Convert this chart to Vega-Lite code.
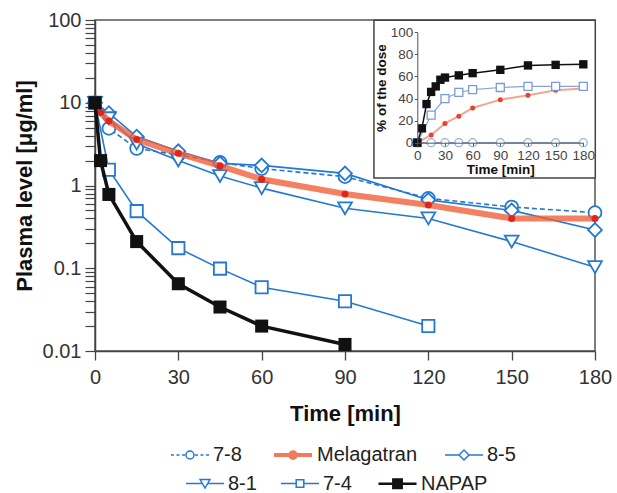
{
  "$schema": "https://vega.github.io/schema/vega-lite/v6.json",
  "width": 500,
  "height": 331,
  "autosize": "none",
  "padding": {"left": 95, "top": 20, "right": 22, "bottom": 142},
  "background": "white",
  "config": {
    "font": "Liberation Sans",
    "view": {"stroke": "#555", "strokeWidth": 1.5},
    "axis": {"labelFlush": false, "labelOverlap": false, "labelBound": false, "grid": false, "domainColor": "#444", "tickColor": "#444", "labelColor": "#333", "titleColor": "#111", "titleFontWeight": "bold"},
    "legend": {"padding": 0, "symbolSize": 1444, "labelOffset": 3, "columnPadding": 24, "labelFontSize": 20, "labelColor": "#222", "direction": "horizontal", "orient": "none"}
  },
  "datasets": {
    "main": [
      {"s": "7-8", "t": 0, "v": 10}, {"s": "7-8", "t": 5, "v": 4.9}, {"s": "7-8", "t": 15, "v": 2.8}, {"s": "7-8", "t": 30, "v": 2.35}, {"s": "7-8", "t": 45, "v": 1.9}, {"s": "7-8", "t": 60, "v": 1.6}, {"s": "7-8", "t": 90, "v": 1.28}, {"s": "7-8", "t": 120, "v": 0.7}, {"s": "7-8", "t": 150, "v": 0.55}, {"s": "7-8", "t": 180, "v": 0.47},
      {"s": "8-5", "t": 0, "v": 10}, {"s": "8-5", "t": 5, "v": 7.5}, {"s": "8-5", "t": 15, "v": 3.9}, {"s": "8-5", "t": 30, "v": 2.6}, {"s": "8-5", "t": 45, "v": 1.85}, {"s": "8-5", "t": 60, "v": 1.75}, {"s": "8-5", "t": 90, "v": 1.4}, {"s": "8-5", "t": 120, "v": 0.67}, {"s": "8-5", "t": 150, "v": 0.5}, {"s": "8-5", "t": 180, "v": 0.29},
      {"s": "8-1", "t": 0, "v": 10}, {"s": "8-1", "t": 5, "v": 6.5}, {"s": "8-1", "t": 15, "v": 3.2}, {"s": "8-1", "t": 30, "v": 2.0}, {"s": "8-1", "t": 45, "v": 1.3}, {"s": "8-1", "t": 60, "v": 0.93}, {"s": "8-1", "t": 90, "v": 0.53}, {"s": "8-1", "t": 120, "v": 0.4}, {"s": "8-1", "t": 150, "v": 0.21}, {"s": "8-1", "t": 180, "v": 0.103},
      {"s": "7-4", "t": 0, "v": 10}, {"s": "7-4", "t": 5, "v": 1.55}, {"s": "7-4", "t": 15, "v": 0.49}, {"s": "7-4", "t": 30, "v": 0.175}, {"s": "7-4", "t": 45, "v": 0.099}, {"s": "7-4", "t": 60, "v": 0.059}, {"s": "7-4", "t": 90, "v": 0.04}, {"s": "7-4", "t": 120, "v": 0.02},
      {"s": "Melagatran", "t": 2, "v": 7.6}, {"s": "Melagatran", "t": 5, "v": 6.0}, {"s": "Melagatran", "t": 15, "v": 3.6}, {"s": "Melagatran", "t": 30, "v": 2.45}, {"s": "Melagatran", "t": 45, "v": 1.73}, {"s": "Melagatran", "t": 60, "v": 1.19}, {"s": "Melagatran", "t": 90, "v": 0.79}, {"s": "Melagatran", "t": 120, "v": 0.58}, {"s": "Melagatran", "t": 150, "v": 0.4}, {"s": "Melagatran", "t": 180, "v": 0.4},
      {"s": "NAPAP", "t": 0, "v": 10}, {"s": "NAPAP", "t": 2, "v": 2.0}, {"s": "NAPAP", "t": 5, "v": 0.78}, {"s": "NAPAP", "t": 15, "v": 0.21}, {"s": "NAPAP", "t": 30, "v": 0.065}, {"s": "NAPAP", "t": 45, "v": 0.034}, {"s": "NAPAP", "t": 60, "v": 0.02}, {"s": "NAPAP", "t": 90, "v": 0.012}
    ],
    "inset": [
      {"s": "NAPAP", "t": 0, "p": 0}, {"s": "NAPAP", "t": 5, "p": 13}, {"s": "NAPAP", "t": 10, "p": 35}, {"s": "NAPAP", "t": 15, "p": 46}, {"s": "NAPAP", "t": 20, "p": 51}, {"s": "NAPAP", "t": 25, "p": 57}, {"s": "NAPAP", "t": 30, "p": 59}, {"s": "NAPAP", "t": 45, "p": 61}, {"s": "NAPAP", "t": 60, "p": 63}, {"s": "NAPAP", "t": 90, "p": 66}, {"s": "NAPAP", "t": 120, "p": 70}, {"s": "NAPAP", "t": 150, "p": 70.5}, {"s": "NAPAP", "t": 180, "p": 71},
      {"s": "7-4", "t": 0, "p": 0}, {"s": "7-4", "t": 15, "p": 25}, {"s": "7-4", "t": 30, "p": 40}, {"s": "7-4", "t": 45, "p": 45.5}, {"s": "7-4", "t": 60, "p": 48}, {"s": "7-4", "t": 90, "p": 50}, {"s": "7-4", "t": 120, "p": 51}, {"s": "7-4", "t": 150, "p": 51}, {"s": "7-4", "t": 180, "p": 51},
      {"s": "Melagatran", "t": 0, "p": 0}, {"s": "Melagatran", "t": 15, "p": 7}, {"s": "Melagatran", "t": 30, "p": 17.5}, {"s": "Melagatran", "t": 45, "p": 24}, {"s": "Melagatran", "t": 60, "p": 31.5}, {"s": "Melagatran", "t": 90, "p": 39}, {"s": "Melagatran", "t": 120, "p": 43}, {"s": "Melagatran", "t": 150, "p": 47.5}, {"s": "Melagatran", "t": 180, "p": 49},
      {"s": "7-8", "t": 0, "p": 0}, {"s": "7-8", "t": 15, "p": 0}, {"s": "7-8", "t": 30, "p": 0}, {"s": "7-8", "t": 45, "p": 0}, {"s": "7-8", "t": 60, "p": 0}, {"s": "7-8", "t": 90, "p": 0}, {"s": "7-8", "t": 120, "p": 0}, {"s": "7-8", "t": 150, "p": 0}, {"s": "7-8", "t": 180, "p": 0}
    ]
  },
  "layer": [
    {
      "data": {"name": "main"},
      "encoding": {
        "x": {"field": "t", "type": "quantitative", "scale": {"domain": [0, 180], "nice": false, "zero": false},
          "axis": {"orient": "bottom", "values": [0, 30, 60, 90, 120, 150, 180], "tickSize": 9, "tickWidth": 1.3, "domainWidth": 1.5, "labelFontSize": 20, "labelPadding": 7, "title": "Time [min]", "titleFontSize": 22, "titlePadding": 16}},
        "y": {"field": "v", "type": "quantitative", "scale": {"type": "log", "domain": [0.01, 100], "nice": false},
          "axis": {"orient": "left", "values": [0.01, 0.02, 0.03, 0.04, 0.05, 0.06, 0.07, 0.08, 0.09, 0.1, 0.2, 0.3, 0.4, 0.5, 0.6, 0.7, 0.8, 0.9, 1, 2, 3, 4, 5, 6, 7, 8, 9, 10, 20, 30, 40, 50, 60, 70, 80, 90, 100],
            "format": "~g", "labelExpr": "abs(log(datum.value)/LN10 - round(log(datum.value)/LN10)) < 0.001 ? datum.label : ''",
            "tickSize": 10, "tickWidth": 1.2, "domainWidth": 1.5, "labelFontSize": 20, "labelPadding": 4, "title": "Plasma level [μg/ml]", "titleFontSize": 22, "titlePadding": 6,
            "encode": {"ticks": {"update": {"x2": {"signal": "abs(log(datum.value)/LN10 - round(log(datum.value)/LN10)) < 0.001 ? -10 : -5"}}}}}}
      },
      "layer": [
        {"transform": [{"filter": "datum.s === '7-8'"}], "mark": {"type": "line", "stroke": "#2478d2", "strokeWidth": 1.6, "strokeDash": [5, 3]}},
        {"transform": [{"filter": "datum.s === '8-5'"}], "mark": {"type": "line", "stroke": "#2478d2", "strokeWidth": 1.6}},
        {"transform": [{"filter": "datum.s === '8-1'"}], "mark": {"type": "line", "stroke": "#2478d2", "strokeWidth": 1.6}},
        {"transform": [{"filter": "datum.s === '7-4'"}], "mark": {"type": "line", "stroke": "#2478d2", "strokeWidth": 1.6}},
        {"transform": [{"filter": "datum.s === '7-8'"}], "mark": {"type": "point", "shape": "circle", "size": 165, "filled": true, "fill": "white", "stroke": "#2478d2", "strokeWidth": 1.8, "opacity": 1}},
        {"transform": [{"filter": "datum.s === '8-5'"}], "mark": {"type": "point", "shape": "diamond", "size": 190, "filled": true, "fill": "white", "stroke": "#2478d2", "strokeWidth": 1.8, "opacity": 1}},
        {"transform": [{"filter": "datum.s === '8-1'"}], "mark": {"type": "point", "shape": "triangle-down", "size": 190, "filled": true, "fill": "white", "stroke": "#2478d2", "strokeWidth": 1.8, "opacity": 1}},
        {"transform": [{"filter": "datum.s === '7-4'"}], "mark": {"type": "point", "shape": "square", "size": 150, "filled": true, "fill": "white", "stroke": "#2478d2", "strokeWidth": 1.8, "opacity": 1}},
        {"transform": [{"filter": "datum.s === 'Melagatran'"}], "mark": {"type": "line", "stroke": "#f0603c", "strokeWidth": 6, "opacity": 0.8}},
        {"transform": [{"filter": "datum.s === 'Melagatran'"}], "mark": {"type": "point", "shape": "circle", "size": 50, "filled": true, "fill": "#e0261a", "strokeWidth": 0, "opacity": 1}},
        {"transform": [{"filter": "datum.s === 'NAPAP'"}], "mark": {"type": "line", "stroke": "#111", "strokeWidth": 3.5}},
        {"transform": [{"filter": "datum.s === 'NAPAP'"}], "mark": {"type": "point", "shape": "square", "size": 170, "filled": true, "fill": "#111", "strokeWidth": 0, "opacity": 1}}
      ]
    },
    {
      "data": {"name": "inset"},
      "encoding": {
        "x": {"field": "t", "type": "quantitative", "scale": {"domain": [0, 180], "range": [322.3, 488.3], "nice": false, "zero": false},
          "axis": {"orient": "bottom", "offset": -208.3, "zindex": 2, "values": [0, 30, 60, 90, 120, 150, 180], "tickSize": 3, "tickWidth": 1, "domainWidth": 1, "domainColor": "#555", "tickColor": "#555", "labelColor": "#444", "labelFontSize": 13.5, "labelPadding": 2.5, "title": "Time [min]", "titleFontSize": 13.5, "titlePadding": 1}},
        "y": {"field": "p", "type": "quantitative", "scale": {"domain": [0, 100], "range": [122.7, 12.3], "nice": false, "zero": false},
          "axis": {"orient": "left", "offset": -322.3, "zindex": 2, "values": [0, 20, 40, 60, 80, 100], "tickSize": 3, "tickWidth": 1, "domainWidth": 1, "domainColor": "#555", "tickColor": "#555", "labelColor": "#444", "labelFontSize": 13.5, "labelPadding": 1.5, "title": "% of the dose", "titleFontSize": 13.5, "titlePadding": 2}}
      },
      "layer": [
        {"transform": [{"filter": "datum.s === '7-8' && datum.t === 0"}], "mark": {"type": "rect", "fill": "white", "stroke": "#444", "strokeWidth": 1.5},
          "encoding": {"x": {"datum": -47}, "x2": {"datum": 193}, "y": {"datum": -32}, "y2": {"datum": 111}}},
        {"transform": [{"filter": "datum.s === '7-8'"}], "mark": {"type": "line", "stroke": "#8a9ab8", "strokeWidth": 1.2}},
        {"transform": [{"filter": "datum.s === '7-8'"}], "mark": {"type": "point", "shape": "circle", "size": 64, "filled": true, "fill": "white", "stroke": "#8fb0e0", "strokeWidth": 1.3, "opacity": 1}},
        {"transform": [{"filter": "datum.s === 'Melagatran'"}], "mark": {"type": "line", "stroke": "#f5a58f", "strokeWidth": 2}},
        {"transform": [{"filter": "datum.s === 'Melagatran'"}], "mark": {"type": "point", "shape": "circle", "size": 25, "filled": true, "fill": "#e8432a", "strokeWidth": 0, "opacity": 1}},
        {"transform": [{"filter": "datum.s === '7-4'"}], "mark": {"type": "line", "stroke": "#8aa2d8", "strokeWidth": 1.2}},
        {"transform": [{"filter": "datum.s === '7-4'"}], "mark": {"type": "point", "shape": "square", "size": 64, "filled": true, "fill": "white", "stroke": "#7b9bd8", "strokeWidth": 1.3, "opacity": 1}},
        {"transform": [{"filter": "datum.s === 'NAPAP'"}], "mark": {"type": "line", "stroke": "#111", "strokeWidth": 1.5}},
        {"transform": [{"filter": "datum.s === 'NAPAP'"}], "mark": {"type": "point", "shape": "square", "size": 70, "filled": true, "fill": "#111", "strokeWidth": 0, "opacity": 1}}
      ]
    },
    {
      "data": {"name": "main"},
      "transform": [{"filter": "false"}],
      "mark": {"type": "point", "filled": true, "opacity": 1},
      "encoding": {
        "shape": {"field": "s", "type": "nominal", "scale": {"domain": ["7-8", "Melagatran", "8-5"], "range": [
          "M-1,0H-0.84M-0.71,0H-0.55M-0.42,0H-0.26M-0.21,0A0.21 0.21 0 1 0 0.21 0A0.21 0.21 0 1 0 -0.21 0M0.26,0H0.42M0.55,0H0.71M0.84,0H1",
          "M-1,0H1M-0.15,0A0.15 0.15 0 1 0 0.15 0A0.15 0.15 0 1 0 -0.15 0",
          "M-1,0H-0.26M-0.26,0L0,-0.26L0.26,0L0,0.26ZM0.26,0H1"]},
          "legend": {"legendX": 75, "legendY": 414, "title": null}},
        "stroke": {"field": "s", "type": "nominal", "scale": {"domain": ["7-8", "Melagatran", "8-5"], "range": ["#2478d2", "#f27a5c", "#2478d2"]},
          "legend": {"legendX": 75, "legendY": 414, "title": null}},
        "fill": {"field": "s", "type": "nominal", "scale": {"domain": ["7-8", "Melagatran", "8-5"], "range": ["white", "#e0261a", "white"]},
          "legend": {"legendX": 75, "legendY": 414, "title": null}},
        "strokeWidth": {"field": "s", "type": "nominal", "scale": {"type": "ordinal", "domain": ["7-8", "Melagatran", "8-5"], "range": [1.5, 4, 1.5]},
          "legend": {"legendX": 75, "legendY": 414, "title": null}}
      }
    },
    {
      "data": {"name": "main"},
      "transform": [{"filter": "false"}],
      "mark": {"type": "point", "filled": true, "opacity": 1},
      "encoding": {
        "shape": {"field": "s", "type": "nominal", "scale": {"domain": ["8-1", "7-4", "NAPAP"], "range": [
          "M-1,0H-0.14M-0.26,-0.21H0.26L0,0.24ZM0.14,0H1",
          "M-1,0H-0.2M-0.2,-0.2H0.2V0.2H-0.2ZM0.2,0H1",
          "M-1,0H-0.22M-0.22,-0.22H0.22V0.22H-0.22ZM0.22,0H1"]},
          "legend": {"legendX": 90, "legendY": 443, "title": null, "columnPadding": 21}},
        "stroke": {"field": "s", "type": "nominal", "scale": {"domain": ["8-1", "7-4", "NAPAP"], "range": ["#2478d2", "#2478d2", "#111"]},
          "legend": {"legendX": 90, "legendY": 443, "title": null, "columnPadding": 21}},
        "fill": {"field": "s", "type": "nominal", "scale": {"domain": ["8-1", "7-4", "NAPAP"], "range": ["white", "white", "#111"]},
          "legend": {"legendX": 90, "legendY": 443, "title": null, "columnPadding": 21}},
        "strokeWidth": {"field": "s", "type": "nominal", "scale": {"type": "ordinal", "domain": ["8-1", "7-4", "NAPAP"], "range": [1.5, 1.5, 2.5]},
          "legend": {"legendX": 90, "legendY": 443, "title": null, "columnPadding": 21}}
      }
    }
  ],
  "resolve": {
    "scale": {"x": "independent", "y": "independent", "shape": "independent", "stroke": "independent", "fill": "independent", "strokeWidth": "independent"},
    "axis": {"x": "independent", "y": "independent"}
  }
}
